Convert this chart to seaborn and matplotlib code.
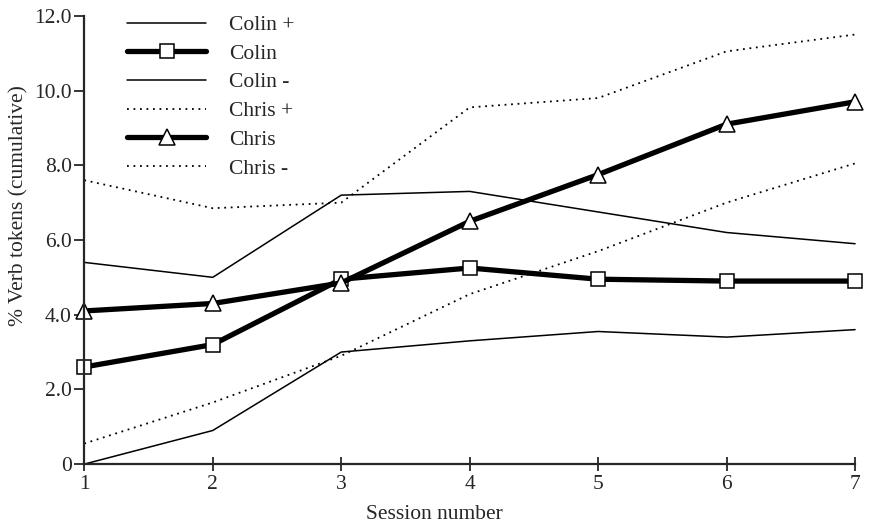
import numpy as np
import pandas as pd
import seaborn as sns
import matplotlib.pyplot as plt

sessions = [1, 2, 3, 4, 5, 6, 7]
colin_plus = [5.4, 5.0, 7.2, 7.3, 6.75, 6.2, 5.9]
colin = [2.6, 3.2, 4.95, 5.25, 4.95, 4.9, 4.9]
colin_minus = [0.0, 0.9, 3.0, 3.3, 3.55, 3.4, 3.6]
chris_plus = [7.6, 6.85, 7.0, 9.55, 9.8, 11.05, 11.5]
chris = [4.1, 4.3, 4.85, 6.5, 7.75, 9.1, 9.7]
chris_minus = [0.55, 1.65, 2.9, 4.55, 5.7, 7.0, 8.05]

sns.set_style("ticks")
plt.rcParams["font.family"] = ["Liberation Serif", "DejaVu Serif"]
plt.rcParams["font.size"] = 15.5

fig, ax = plt.subplots(figsize=(8.69, 5.28), dpi=100)
fig.subplots_adjust(left=0.097, right=0.984, bottom=0.121, top=0.97)

thin = dict(color="black", linewidth=1.1)
thick = dict(color="black", linewidth=3.8, markersize=10,
             markerfacecolor="white", markeredgecolor="black", markeredgewidth=1.1)
dotted = dict(color="black", linewidth=1.3, linestyle=(0, (1.0, 2.6)))

sns.lineplot(x=sessions, y=colin_plus, ax=ax, label="Colin +", **thin)
sns.lineplot(x=sessions, y=colin, ax=ax, label="Colin", marker="s", **thick)
sns.lineplot(x=sessions, y=colin_minus, ax=ax, label="Colin -", **thin)
sns.lineplot(x=sessions, y=chris_plus, ax=ax, label="Chris +", **dotted)
sns.lineplot(x=sessions, y=chris, ax=ax, label="Chris", marker="^", **thick)
sns.lineplot(x=sessions, y=chris_minus, ax=ax, label="Chris -", **dotted)
ax.lines[4].set_markersize(12)

ax.set_xlim(1, 7)
ax.set_ylim(0, 12)
ax.set_xticks(sessions)
yt = [0, 2, 4, 6, 8, 10, 12]
ax.set_yticks(yt)
ax.set_yticklabels(["0"] + [f"{v:.1f}" for v in yt[1:]])
ax.tick_params(axis="x", direction="inout", length=10, width=1.3, labelsize=15.5, pad=3)
ax.tick_params(axis="y", direction="out", length=7, width=1.3, labelsize=15.5, pad=2)
for s in ["left", "bottom"]:
    ax.spines[s].set_linewidth(1.6)
sns.despine(ax=ax)
for ln in ax.lines:
    ln.set_clip_on(False)

ax.set_xlabel("Session number")
ax.set_ylabel("% Verb tokens (cumulative)")
ax.xaxis.set_label_coords(0.454, -0.092)
ax.yaxis.set_label_coords(-0.072, 0.576)

ax.legend(loc="upper left", bbox_to_anchor=(0.03, 1.045), frameon=False,
          handlelength=3.7, handletextpad=1.05, labelspacing=0.4, fontsize=15.5)

fig.savefig("out.png", dpi=100)
